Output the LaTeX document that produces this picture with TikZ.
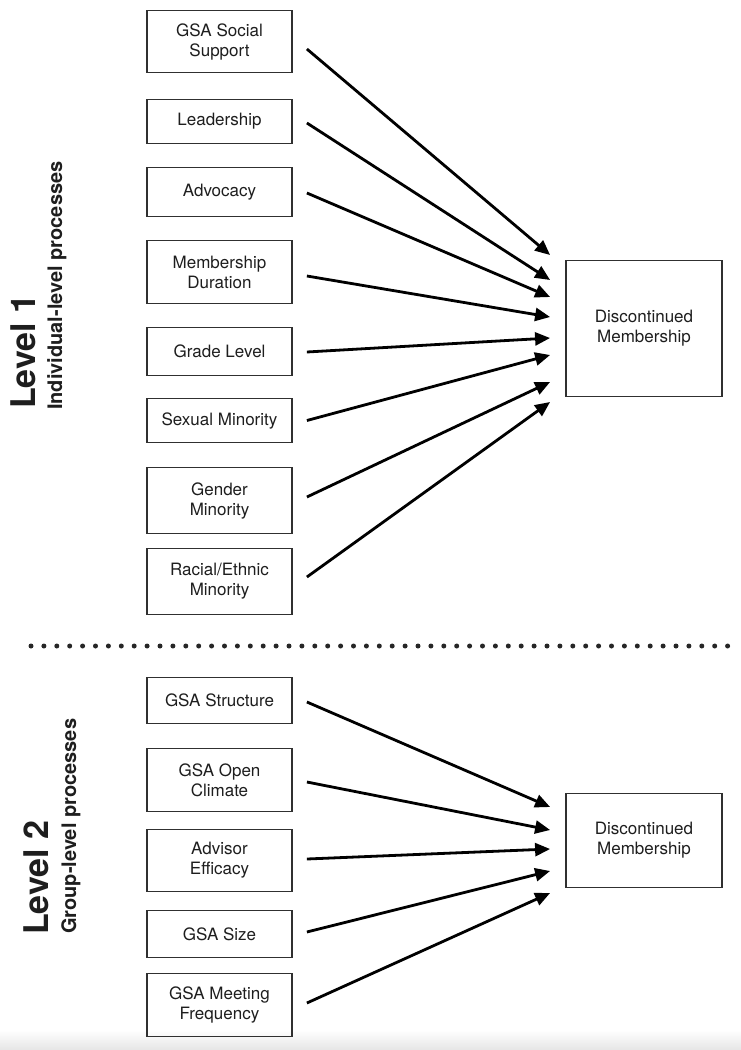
\documentclass[tikz,border=0pt]{standalone}
\usepackage{fontspec}
\setmainfont{TeX Gyre Heros}
\usetikzlibrary{arrows.meta,calc}
\definecolor{boxgray}{HTML}{303030}
\definecolor{textblack}{HTML}{1E1E1E}
\begin{document}
\begin{tikzpicture}[x=1pt,y=-1pt,
  box/.style={draw=boxgray, line width=1.8pt, minimum width=145pt, inner sep=0pt, align=center,
              font=\fontsize{17}{20}\selectfont, text=textblack},
  target/.style={box, minimum width=156pt},
  conn/.style={line width=2.8pt, -{Triangle[length=15pt,width=13pt]}},
  lvl/.style={rotate=90, anchor=base west, inner sep=0pt, text=textblack,
              font=\fontsize{34}{34}\selectfont\bfseries},
  subl/.style={rotate=90, anchor=base west, inner sep=0pt, text=textblack,
              font=\fontsize{20}{20}\selectfont\bfseries}
]
\fill[white] (0,0) rectangle (741,1050);
\useasboundingbox (0,0) rectangle (741,1050);
\shade[top color=white, bottom color=black!10] (0,1030) rectangle (741,1050);

% Level 1 labels
\node[lvl] (l1) at (35,409) {Level 1};
\node[subl] (s1) at (62,410) {Individual-level processes};

% Level 1 boxes
\node[box, minimum height=62pt] (ss)   at (219.5,41.5)  {GSA Social\\Support};
\node[box, minimum height=44pt] (lead) at (219.5,121.5) {Leadership};
\node[box, minimum height=49pt] (adv)  at (219.5,192)   {Advocacy};
\node[box, minimum height=63pt] (dur)  at (219.5,272)   {Membership\\Duration};
\node[box, minimum height=48pt] (grd)  at (219.5,351.5) {Grade Level};
\node[box, minimum height=44pt] (sex)  at (219.5,420.5) {Sexual Minority};
\node[box, minimum height=66pt] (gen)  at (219.5,500.5) {Gender\\Minority};
\node[box, minimum height=66pt] (rac)  at (219.5,581.5) {Racial/Ethnic\\Minority};

\node[target, minimum height=136pt] (dm1) at (644,328.5) {Discontinued\\Membership};

\draw[conn] ($(ss.east)+(14,7.5)$)  -- ($(dm1.west)+(-15,-73.5)$);
\draw[conn] ($(lead.east)+(14,1.5)$) -- ($(dm1.west)+(-15,-48.5)$);
\draw[conn] ($(adv.east)+(14,1)$)   -- ($(dm1.west)+(-15,-31.5)$);
\draw[conn] ($(dur.east)+(14,4)$)   -- ($(dm1.west)+(-15,-11.5)$);
\draw[conn] ($(grd.east)+(14,0.5)$) -- ($(dm1.west)+(-15,9.5)$);
\draw[conn] ($(sex.east)+(14,0)$)   -- ($(dm1.west)+(-15,26.5)$);
\draw[conn] ($(gen.east)+(14,-3.5)$) -- ($(dm1.west)+(-15,53.5)$);
\draw[conn] ($(rac.east)+(14,-4.5)$) -- ($(dm1.west)+(-15,73.5)$);

% separator
\draw[line width=5pt, line cap=round, dash pattern=on 0pt off 12.9pt, black!85] (31,646) -- (735,646);

% Level 2 labels
\node[lvl] (l2) at (48,935) {Level 2};
\node[subl] (s2) at (76,934) {Group-level processes};

% Level 2 boxes
\node[box, minimum height=46pt] (str)  at (219.5,700.5) {GSA Structure};
\node[box, minimum height=63pt] (clim) at (219.5,780)   {GSA Open\\Climate};
\node[box, minimum height=62pt] (advf) at (219.5,860.5) {Advisor\\Efficacy};
\node[box, minimum height=47pt] (size) at (219.5,934)   {GSA Size};
\node[box, minimum height=63pt] (meet) at (219.5,1005)  {GSA Meeting\\Frequency};

\node[target, minimum height=94pt] (dm2) at (644,840.5) {Discontinued\\Membership};

\draw[conn] ($(str.east)+(14,1.5)$)  -- ($(dm2.west)+(-15,-33.5)$);
\draw[conn] ($(clim.east)+(14,2)$)   -- ($(dm2.west)+(-15,-10.5)$);
\draw[conn] ($(advf.east)+(14,-1.5)$) -- ($(dm2.west)+(-15,8.5)$);
\draw[conn] ($(size.east)+(14,-2)$)  -- ($(dm2.west)+(-15,30.5)$);
\draw[conn] ($(meet.east)+(14,-2)$)  -- ($(dm2.west)+(-15,52.5)$);
\end{tikzpicture}
\end{document}
